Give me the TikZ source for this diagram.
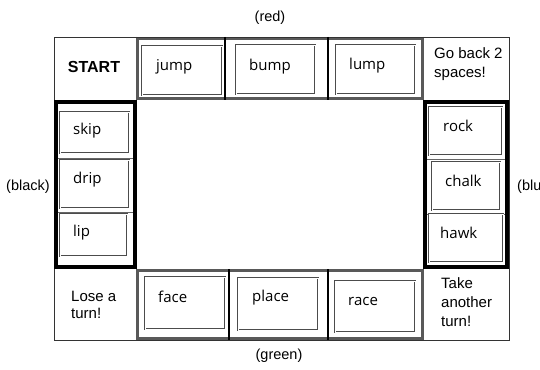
\documentclass[tikz,border=0pt]{standalone}
\usepackage{fontspec}
\setmainfont{Liberation Sans}
\newfontfamily\wordfont{Open Sans}
\begin{document}
\begin{tikzpicture}[x=1pt,y=-1pt,
  wordbox/.style={draw=black!70, double=white, double distance=0.9pt, line width=0.6pt, minimum width=#1, inner sep=0pt},
  word/.style={anchor=west, font=\wordfont\fontsize{15}{17}\selectfont, inner sep=0pt},
  plain/.style={font=\fontsize{15}{19}\selectfont, align=left, inner sep=0pt},
  side/.style={font=\fontsize{14.5}{17}\selectfont, inner sep=0pt},
  rowframe/.style={draw=black!65, line width=3pt},
  colframe/.style={draw=black, line width=4pt},
  divider/.style={draw=black, line width=1.4pt},
  thin/.style={draw=black!80, line width=0.9pt}]
\useasboundingbox (0,0) rectangle (540,369);
\clip (0,0) rectangle (540,369);
\fill[white] (0,0) rectangle (540,369);

% board outline and corner cells
\draw[thin] (54,37) rectangle (509,340);
\draw[thin] (136,37) -- (136,100);
\draw[thin] (423,37) -- (423,100);
\draw[thin] (136,269) -- (136,340);
\draw[thin] (423,269) -- (423,340);

% top row (red)
\draw[rowframe] (137.5,38.5) rectangle (422.5,98.5);
\draw[thin] (136,37) -- (424,37);
\draw[divider] (225,37) -- (225,100);
\draw[divider] (328,37) -- (328,100);

% bottom row (green)
\draw[rowframe] (137.5,270.5) rectangle (422.5,338.5);
\draw[thin] (136,340) -- (424,340);
\draw[divider] (229,269) -- (229,340);
\draw[divider] (328,269) -- (328,340);

% left column (black)
\draw[colframe] (56,101.5) rectangle (135,266.5);
\draw[draw=black!60, line width=1pt] (58,158) -- (133,158);
\draw[draw=black!60, line width=1pt] (58,212) -- (133,212);

% right column (blue)
\draw[colframe] (425,101.5) rectangle (507,266.5);
\draw[draw=black!60, line width=1pt] (427,159) -- (505,159);
\draw[draw=black!60, line width=1pt] (427,214) -- (505,214);

% word boxes
\node[wordbox=80pt, minimum height=49pt] (jumpbox) at (182,70.5) {};
\node[wordbox=79pt, minimum height=49pt] (bumpbox) at (275.5,69.5) {};
\node[wordbox=79pt, minimum height=49pt] (lumpbox) at (375.5,69.5) {};
\node[wordbox=69pt, minimum height=41pt] (skipbox) at (94.5,132.5) {};
\node[wordbox=69pt, minimum height=48pt] (dripbox) at (94.5,184) {};
\node[wordbox=67pt, minimum height=42pt] (lipbox) at (93.5,235) {};
\node[wordbox=73pt, minimum height=48pt] (rockbox) at (465.5,131) {};
\node[wordbox=68pt, minimum height=48pt] (chalkbox) at (466,186) {};
\node[wordbox=74pt, minimum height=48pt] (hawkbox) at (466,238) {};
\node[wordbox=80pt, minimum height=52pt] (facebox) at (185,303) {};
\node[wordbox=80pt, minimum height=52pt] (placebox) at (278,304) {};
\node[wordbox=80pt, minimum height=51pt] (racebox) at (375,306.5) {};

% words
\node[word] (jump) at (156,67) {jump};
\node[word] (bump) at (249,67) {bump};
\node[word] (lump) at (349,66) {lump};
\node[word] (skip) at (73,131) {skip};
\node[word] (drip) at (73,180) {drip};
\node[word] (lip) at (73,233) {lip};
\node[word] (rock) at (443,126) {rock};
\node[word] (chalk) at (445,181) {chalk};
\node[word] (hawk) at (440,233) {hawk};
\node[word] (face) at (158,297) {face};
\node[word] (place) at (252,298) {place};
\node[word] (race) at (348,301) {race};

% corner cells
\node[font=\bfseries\fontsize{16}{18}\selectfont, inner sep=0pt] (start) at (94,67) {START};
\node[plain, anchor=west] (goback) at (434,64.5) {Go back 2\\spaces!};
\node[plain, anchor=west, font=\fontsize{15}{17}\selectfont] (lose) at (71,304.5) {Lose a\\turn!};
\node[plain, anchor=west] (take) at (441,302) {Take\\another\\turn!};

% side labels
\node[side] (red) at (270,18) {(red)};
\node[side] (black) at (28,187) {(black)};
\node[side, anchor=west] (blue) at (517,187) {(blue)};
\node[side] (green) at (279,356) {(green)};
\end{tikzpicture}
\end{document}
